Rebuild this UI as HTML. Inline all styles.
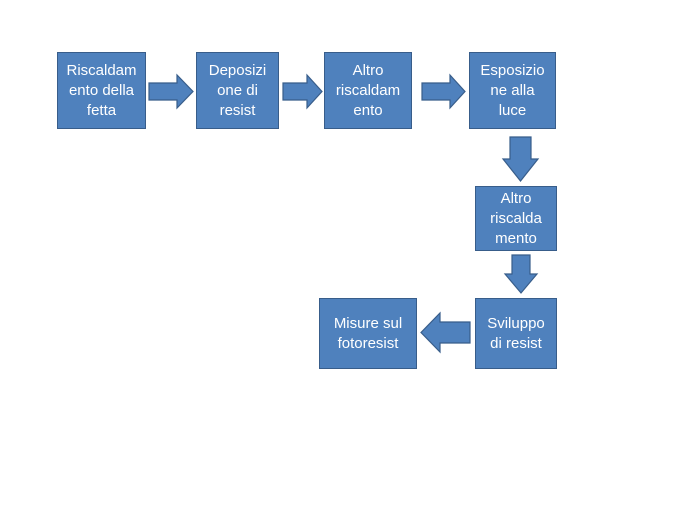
<!DOCTYPE html>
<html><head><style>
body{margin:0;width:683px;height:512px;background:#fff;position:relative;overflow:hidden;font-family:"Liberation Sans",sans-serif}
.b{position:absolute;background:#4f81bd;border:1.5px solid #385d8a;box-sizing:border-box;color:#fff;font-size:15px;line-height:20px;text-align:center;display:flex;align-items:center;justify-content:center}
svg{position:absolute;left:0;top:0}
</style></head><body>
<svg width="683" height="512">
<g fill="#4f81bd" stroke="#385d8a" stroke-width="1.2">
<polygon points="149,83 177,83 177,75 193,91.5 177,108 177,100 149,100"/>
<polygon points="283,83 307,83 307,75 322,91.5 307,108 307,100 283,100"/>
<polygon points="422,83 450,83 450,75 465,91.5 450,108 450,100 422,100"/>
<polygon points="510,137 531,137 531,159 538,159 520.5,181 503,159 510,159"/>
<polygon points="512,255 530,255 530,274 537,274 521,293 505,274 512,274"/>
<polygon points="470,322 440,322 440,313 421,332.5 440,352 440,343 470,343"/>
</g></svg>
<div class="b" style="left:57px;top:52px;width:89px;height:77px">Riscaldam<br>ento della<br>fetta</div>
<div class="b" style="left:196px;top:52px;width:83px;height:77px">Deposizi<br>one di<br>resist</div>
<div class="b" style="left:324px;top:52px;width:88px;height:77px">Altro<br>riscaldam<br>ento</div>
<div class="b" style="left:469px;top:52px;width:87px;height:77px">Esposizio<br>ne alla<br>luce</div>
<div class="b" style="left:475px;top:186px;width:82px;height:65px">Altro<br>riscalda<br>mento</div>
<div class="b" style="left:475px;top:298px;width:82px;height:71px">Sviluppo<br>di resist</div>
<div class="b" style="left:319px;top:298px;width:98px;height:71px">Misure sul<br>fotoresist</div>
</body></html>
